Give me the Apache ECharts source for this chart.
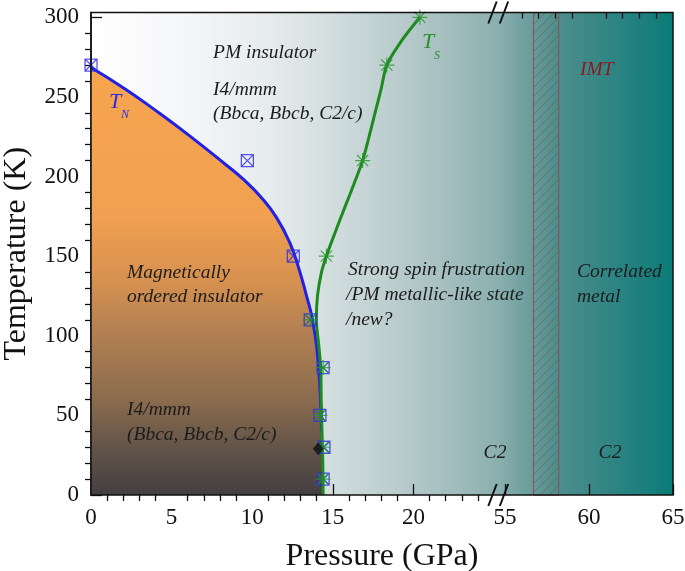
<!DOCTYPE html>
<html><head><meta charset="utf-8">
<script src="https://cdn.jsdelivr.net/npm/echarts@6/dist/echarts.min.js"></script>
<style>html,body{margin:0;padding:0;background:#fff}#c{width:685px;height:571px}</style>
</head><body><div id="c"></div>
<script>
// ---- data ----
const pressureTicksLeft = [0, 5, 10, 15, 20];
const pressureMinorLeft = [1,2,3,4,6,7,8,9,11,12,13,14,16,17,18,19,21,22,23,24];
const pressureTicksRight = [55, 60, 65];
const pressureMinorRight = [56,57,58,59,61,62,63,64];
const tempTicks = [0, 50, 100, 150, 200, 250, 300];
const tempMinor = [10,20,30,40,60,70,80,90,110,120,130,140,160,170,180,190,210,220,230,240,260,270,280,290];

const tnMarkP = [0, 9.7, 12.55, 13.6, 14.4, 14.2, 14.45, 14.4];
const tnMarkT = [270, 210, 150, 110, 80, 50, 30, 10];
const tsMarkP = [20.4, 18.35, 16.85, 14.6, 13.6, 14.4, 14.2, 14.4, 14.4];
const tsMarkT = [300, 270, 210, 150, 110, 80, 50, 30, 10];

const tnCurveP = [0, 2.07, 4.13, 6.2, 8.27, 9.51, 10.55, 11.52, 12.35, 12.9, 13.4, 13.7, 14.0, 14.2, 14.3];
const tnCurveT = [268.5, 255.3, 240.6, 224.9, 208.2, 197.7, 187, 174, 158, 142, 124, 112, 93, 68, 40];
const orderedTailP = [14.38, 14.4];
const orderedTailT = [15, 0];

const tsCurveP = [14.4, 14.38, 14.33, 14.28, 14.25, 14.12, 13.98, 14.05, 14.3, 14.6, 15.15, 15.72, 16.3, 16.85, 17.25, 17.62, 18.0, 18.35, 19.25, 20.4];
const tsCurveT = [0, 20, 40, 60, 80, 95, 110, 125, 140, 150, 165, 180, 195, 210, 225, 240, 255, 270, 285, 300];

const diamondP = [14.1];
const diamondT = [29];
const imtBand = [56.7, 58.2];

// ---- helpers ----
const zip = (a, b) => a.map((v, i) => [v, b[i]]);
const FF = '"Liberation Serif","Times New Roman",serif';

const pc = document.createElement('canvas');
pc.width = 9; pc.height = 9;
const g = pc.getContext('2d');
g.strokeStyle = 'rgba(115,95,95,0.8)'; g.lineWidth = 0.9;
g.beginPath();
g.moveTo(-1, 10); g.lineTo(10, -1);
g.stroke();

const chart = echarts.init(document.getElementById('c'), null, {renderer: 'canvas'});

const GT = 12.5, GH = 482.5;
function xAx(grid, min, max, vals, len, labels) {
  return {
    type: 'value', gridIndex: grid, min: min, max: max,
    axisLine: {show: false}, splitLine: {show: false},
    axisTick: {show: true, inside: true, length: len, customValues: vals, lineStyle: {color: '#111', width: 1.3}},
    axisLabel: labels ? {show: true, customValues: vals, fontSize: 23, fontFamily: FF, color: '#111', margin: 11} : {show: false}
  };
}

const squarePath = 'path://M0,0H10V10H0Z M0,0L10,10 M10,0L0,10';
const starPath = 'path://M5,0L5,10 M0,5L10,5 M1.3,1.3L8.7,8.7 M8.7,1.3L1.3,8.7';

const option = {
  animation: false,
  grid: [
    {left: 91, top: GT, width: 403, height: GH, outerBoundsMode: 'none', containLabel: false},
    {left: 505, top: GT, width: 168, height: GH, outerBoundsMode: 'none', containLabel: false}
  ],
  xAxis: [
    xAx(0, 0, 25, pressureTicksLeft, 11, true),
    xAx(0, 0, 25, pressureMinorLeft, 6, false),
    xAx(1, 55, 65, pressureTicksRight, 11, true),
    xAx(1, 55, 65, pressureMinorRight, 6, false)
  ],
  yAxis: [
    {type: 'value', gridIndex: 0, min: 0, max: 303,
     axisLine: {show: true, lineStyle: {color: '#111', width: 1.5}}, splitLine: {show: false},
     axisTick: {inside: true, length: 11, customValues: tempTicks, lineStyle: {color: '#111', width: 1.3}},
     axisLabel: {customValues: tempTicks, fontSize: 23, fontFamily: FF, color: '#111', margin: 12},
     name: 'Temperature (K)', nameLocation: 'middle', nameGap: 58,
     nameTextStyle: {fontSize: 32, fontFamily: FF, color: '#111'}},
    {type: 'value', gridIndex: 0, min: 0, max: 303,
     axisLine: {show: false}, splitLine: {show: false},
     axisTick: {inside: true, length: 6, customValues: tempMinor, lineStyle: {color: '#111', width: 1.3}},
     axisLabel: {show: false}},
    {type: 'value', gridIndex: 1, min: 0, max: 303, show: false}
  ],
  series: [
    {type: 'line', xAxisIndex: 0, yAxisIndex: 0, z: 1, symbol: 'none', smooth: 0.5,
     data: zip(tnCurveP.concat(orderedTailP), tnCurveT.concat(orderedTailT)),
     lineStyle: {width: 0, opacity: 0},
     areaStyle: {opacity: 1, color: {type: 'linear', x: 0, y: 0, x2: 0, y2: 1, colorStops: [
       {offset: 0, color: '#f8a54f'}, {offset: 0.35, color: '#f0a050'}, {offset: 0.5, color: '#d69150'},
       {offset: 0.62, color: '#b28052'}, {offset: 0.78, color: '#8a6b4e'}, {offset: 0.9, color: '#5f5248'},
       {offset: 1, color: '#453e42'}]}}},
    {type: 'line', xAxisIndex: 0, yAxisIndex: 0, z: 3, symbol: 'none', smooth: 0.5,
     data: zip(tnCurveP, tnCurveT), lineStyle: {color: '#2020e6', width: 3}},
    {type: 'line', xAxisIndex: 0, yAxisIndex: 0, z: 4, symbol: 'none', smooth: 0.3,
     data: zip(tsCurveP, tsCurveT), lineStyle: {color: '#1e8b1e', width: 3}},
    {type: 'scatter', xAxisIndex: 0, yAxisIndex: 0, z: 5, symbol: squarePath, symbolSize: 12,
     data: zip(tnMarkP, tnMarkT), itemStyle: {color: 'none', borderColor: '#2b2be8', borderWidth: 1.3}},
    {type: 'scatter', xAxisIndex: 0, yAxisIndex: 0, z: 6, symbol: starPath, symbolSize: 15,
     data: zip(tsMarkP, tsMarkT), itemStyle: {color: 'none', borderColor: '#23952a', borderWidth: 1.2}},
    {type: 'scatter', xAxisIndex: 0, yAxisIndex: 0, z: 7, symbol: 'diamond', symbolSize: [11, 13],
     data: zip(diamondP, diamondT), itemStyle: {color: '#111'}},
    {type: 'line', xAxisIndex: 2, yAxisIndex: 2, z: 2, symbol: 'none', data: [[60, -50]],
     lineStyle: {opacity: 0},
     markArea: {silent: true, itemStyle: {color: {image: pc, repeat: 'repeat'}, opacity: 1, borderColor: '#8c5050', borderWidth: 1},
       data: [[{xAxis: imtBand[0], yAxis: 0}, {xAxis: imtBand[1], yAxis: 303}]]}}
  ],
  graphic: []
};

function txt(x, y, s, opts) {
  opts = opts || {};
  return {type: 'text', x: x, y: y, z: 60, silent: true,
    style: {text: s, fill: opts.color || '#1c1c1c', align: opts.align || 'left', verticalAlign: 'middle',
      font: (opts.italic === false ? '' : 'italic ') + (opts.size || 19.5) + 'px ' + FF}};
}

option.graphic = [
  {type: 'rect', z: -10, silent: true, shape: {x: 91, y: GT, width: 582, height: GH},
   style: {fill: {type: 'linear', x: 0, y: 0, x2: 1, y2: 0, colorStops: [
     {offset: 0, color: '#ffffff'}, {offset: 0.15, color: '#f6f7f8'}, {offset: 0.3, color: '#e7ecec'},
     {offset: 0.4, color: '#d5dfe0'}, {offset: 0.53, color: '#b9cbcc'}, {offset: 0.62, color: '#a2bdbd'},
     {offset: 0.7, color: '#8aafaf'}, {offset: 0.8, color: '#4f8e8d'}, {offset: 0.9, color: '#2d8483'},
     {offset: 1, color: '#0a7b78'}]}}},
  {type: 'rect', z: 50, silent: true, shape: {x: 91, y: GT, width: 582, height: GH},
   style: {fill: 'none', stroke: '#111', lineWidth: 1.5}},
  // axis break marks
  {type: 'line', z: 55, silent: true, shape: {x1: 488.3, y1: GT + 11, x2: 496.7, y2: GT - 11}, style: {stroke: '#111', lineWidth: 2}},
  {type: 'line', z: 55, silent: true, shape: {x1: 499.8, y1: GT + 11, x2: 508.2, y2: GT - 11}, style: {stroke: '#111', lineWidth: 2}},
  {type: 'line', z: 55, silent: true, shape: {x1: 488.3, y1: GT + GH + 11, x2: 496.7, y2: GT + GH - 11}, style: {stroke: '#111', lineWidth: 2}},
  {type: 'line', z: 55, silent: true, shape: {x1: 499.8, y1: GT + GH + 11, x2: 508.2, y2: GT + GH - 11}, style: {stroke: '#111', lineWidth: 2}},
  txt(382, 557, 'Pressure (GPa)', {italic: false, size: 32, align: 'center', color: '#111'}),
  txt(213, 53, 'PM insulator'),
  txt(213, 90, 'I4/mmm'),
  txt(213, 114, '(Bbca, Bbcb, C2/c)'),
  txt(127, 273, 'Magnetically'),
  txt(127, 297, 'ordered insulator'),
  txt(127, 410, 'I4/mmm'),
  txt(127, 435, '(Bbca, Bbcb, C2/c)'),
  txt(348, 270, 'Strong spin frustration'),
  txt(346, 295, '/PM metallic-like state'),
  txt(346, 320, '/new?'),
  txt(577, 272, 'Correlated'),
  txt(577, 297, 'metal'),
  txt(495, 453, 'C2', {align: 'center'}),
  txt(610, 453, 'C2', {align: 'center'}),
  txt(580, 70, 'IMT', {color: '#8b1a1a'}),
  txt(109, 102, 'T', {color: '#2a2ae0', size: 22}),
  txt(121, 115, 'N', {color: '#2a2ae0', size: 12}),
  txt(422, 42, 'T', {color: '#25902a', size: 22}),
  txt(434, 56, 'S', {color: '#25902a', size: 12})
];

chart.setOption(option);
</script></body></html>
